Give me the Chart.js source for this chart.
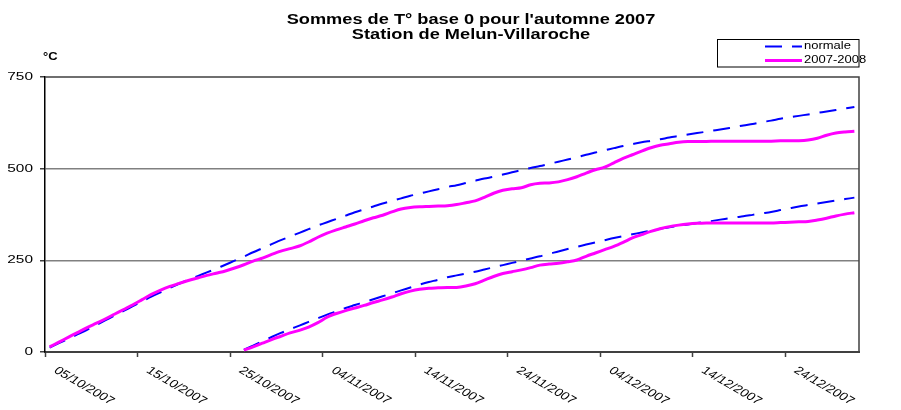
<!DOCTYPE html>
<html>
<head>
<meta charset="utf-8">
<script src="https://cdn.jsdelivr.net/npm/chart.js@4.4.1/dist/chart.umd.min.js"></script>
<style>
  body { margin: 0; background: #fff; }
  #wrap { width: 901px; height: 410px; position: relative; }
</style>
</head>
<body>
<div id="wrap"><canvas id="chart"></canvas></div>
<script>
// jours du 05/10/2007 au 31/12/2007
const nbJours = 88;
const jours = [];
for (let i = 0; i < nbJours; i++) {
  const d = new Date(2007, 9, 5 + i);
  const dd = String(d.getDate()).padStart(2, '0');
  const mm = String(d.getMonth() + 1).padStart(2, '0');
  jours.push(dd + '/' + mm + '/' + d.getFullYear());
}
const pasEtiquettes = 10;
const yTicks = [0, 250, 500, 750];

const titre = ["Sommes de T° base 0 pour l'automne 2007", 'Station de Melun-Villaroche'];
const uniteY = '°C';

// cumul depuis le 05/10
const normale1 = [12, 24, 36, 48, 60, 73, 86, 99, 112, 125,
  138, 151, 163, 175, 186, 197, 207, 217, 227, 238,
  249, 260, 272, 283, 294, 305, 315, 325, 335, 345,
  354, 363, 372, 381, 389, 397, 405, 412, 419, 426,
  432, 438, 444, 450, 455, 461, 467, 473, 478, 484,
  490, 496, 502, 507, 513, 519, 525, 531, 538, 544,
  550, 556, 562, 567, 572, 576, 580, 585, 589, 593,
  597, 601, 605, 609, 613, 618, 622, 627, 631, 636,
  640, 644, 648, 652, 656, 660, 664, 668];
const annee1 = [14, 27, 40, 53, 66, 78, 90, 103, 116, 129,
  143, 157, 169, 179, 187, 195, 202, 209, 215, 221,
  229, 238, 248, 256, 266, 275, 282, 289, 300, 313,
  324, 333, 341, 349, 358, 366, 373, 382, 390, 394,
  396, 397, 398, 399, 402, 407, 412, 422, 433, 441,
  445, 448, 456, 460, 461, 464, 470, 478, 488, 497,
  504, 516, 528, 538, 548, 557, 564, 568, 572, 574,
  574, 574, 575, 575, 575, 575, 575, 575, 575, 576,
  576, 576, 578, 583, 591, 597, 600, 602];
// cumul depuis le 26/10
const normale2 = [null, null, null, null, null, null, null, null, null, null,
  null, null, null, null, null, null, null, null, null, null,
  null, 6, 17, 29, 41, 52, 62, 72, 82, 92,
  102, 111, 120, 128, 136, 144, 152, 160, 168, 176,
  184, 191, 197, 204, 209, 214, 219, 225, 231, 237,
  243, 249, 255, 261, 268, 274, 281, 287, 293, 299,
  305, 311, 316, 321, 326, 331, 336, 340, 344, 348,
  352, 355, 359, 363, 367, 370, 374, 378, 382, 387,
  392, 397, 401, 405, 409, 413, 417, 421];
const annee2 = [null, null, null, null, null, null, null, null, null, null,
  null, null, null, null, null, null, null, null, null, null,
  null, 5, 14, 24, 34, 43, 52, 59, 68, 80,
  95, 105, 113, 120, 127, 135, 142, 150, 159, 166,
  171, 174, 175, 176, 176, 180, 186, 196, 206, 214,
  219, 224, 230, 237, 240, 242, 246, 251, 261, 270,
  279, 288, 299, 311, 320, 329, 336, 342, 346, 349,
  351, 352, 352, 352, 352, 352, 352, 352, 352, 353,
  354, 355, 356, 360, 365, 371, 376, 380];

const bleu = '#0000FF';
const magenta = '#FF00FF';
const tirets = [17, 10];
const police = '"Liberation Sans", Arial, sans-serif';
const etirement = 1.3; // le graphique d'origine est etire en largeur

function texte(ctx, str, x, y, font, align, base, sx, angle) {
  ctx.save();
  ctx.translate(x, y);
  ctx.scale(sx, 1);
  if (angle) ctx.rotate(angle);
  ctx.font = font;
  ctx.fillStyle = '#000';
  ctx.textAlign = align;
  ctx.textBaseline = base;
  ctx.fillText(str, 0, 0);
  ctx.restore();
}

const decor = {
  id: 'decor',
  afterDraw(chart) {
    const ctx = chart.ctx;
    const area = chart.chartArea;
    const xs = chart.scales.x;
    const ys = chart.scales.y;

    // cadre
    ctx.save();
    ctx.strokeStyle = '#404040';
    ctx.lineWidth = 1.5;
    ctx.beginPath();
    ctx.moveTo(area.left, area.top);
    ctx.lineTo(area.right, area.top);
    ctx.lineTo(area.right, area.bottom);
    ctx.stroke();
    ctx.restore();

    // titre
    texte(ctx, titre[0], 471, 24, 'bold 14px ' + police, 'center', 'alphabetic', etirement);
    texte(ctx, titre[1], 471, 39, 'bold 14px ' + police, 'center', 'alphabetic', etirement);
    texte(ctx, uniteY, 43, 60, 'bold 10px ' + police, 'left', 'alphabetic', etirement);

    // etiquettes axe Y
    ys.ticks.forEach(t => {
      texte(ctx, String(t.value), 33, ys.getPixelForValue(t.value), '11px ' + police, 'right', 'middle', 1.4);
    });

    // etiquettes axe X, penchees vers le bas
    for (let i = 0; i < jours.length; i += pasEtiquettes) {
      const px = xs.getPixelForValue(i);
      texte(ctx, jours[i], px + 10, area.bottom + 13, '11px ' + police, 'left', 'top', etirement, 37 * Math.PI / 180);
    }

    // legende
    ctx.save();
    ctx.strokeStyle = '#000';
    ctx.lineWidth = 1;
    ctx.strokeRect(717.5, 39.5, 141.5, 27.5);
    const items = chart.data.datasets.filter(d => d.legende);
    items.sort((a, b) => a.rangLegende - b.rangLegende);
    items.forEach((d, k) => {
      const y = 46.5 + k * 14;
      ctx.strokeStyle = d.borderColor;
      ctx.lineWidth = d.borderWidth;
      ctx.setLineDash(d.borderDash || []);
      ctx.beginPath();
      ctx.moveTo(765, y);
      ctx.lineTo(802, y);
      ctx.stroke();
      ctx.setLineDash([]);
      texte(ctx, d.label, 804, y, '10px ' + police, 'left', 'middle', etirement);
    });
    ctx.restore();
  }
};

const ctx = document.getElementById('chart').getContext('2d');
const chart = new Chart(ctx, {
  type: 'line',
  data: {
    labels: jours,
    datasets: [
      { label: '2007-2008', data: annee1, borderColor: magenta, borderWidth: 3, order: 0, legende: true, rangLegende: 1 },
      { label: '2007-2008', data: annee2, borderColor: magenta, borderWidth: 3, order: 0 },
      { label: 'normale', data: normale1, borderColor: bleu, borderWidth: 2, borderDash: tirets, order: 1, legende: true, rangLegende: 0 },
      { label: 'normale', data: normale2, borderColor: bleu, borderWidth: 2, borderDash: tirets, order: 1 }
    ]
  },
  options: {
    responsive: true,
    maintainAspectRatio: false,
    animation: false,
    layout: { padding: { top: 77, right: 42, left: 0, bottom: 0 } },
    elements: {
      point: { radius: 0 },
      line: { tension: 0.3, fill: false }
    },
    plugins: {
      legend: { display: false },
      title: { display: false },
      tooltip: { enabled: false }
    },
    scales: {
      x: {
        type: 'category',
        offset: true,
        grid: {
          offset: true,
          drawOnChartArea: false,
          tickLength: 5,
          tickWidth: 1.5,
          tickColor: (c) => (c.index % pasEtiquettes === 0 ? '#404040' : 'rgba(0,0,0,0)')
        },
        border: { color: '#404040', width: 2 },
        ticks: { display: false, autoSkip: false },
        afterFit: (s) => { s.height = 58; }
      },
      y: {
        min: 0,
        max: 750,
        afterBuildTicks: (s) => { s.ticks = yTicks.map(v => ({ value: v })); },
        grid: {
          color: (c) => (c.tick && c.tick.value > 0 && c.tick.value < 750 ? '#808080' : 'rgba(0,0,0,0)'),
          lineWidth: 1.5,
          tickLength: 5,
          tickColor: '#404040'
        },
        border: { color: '#000', width: 1.5 },
        ticks: { display: false },
        afterFit: (s) => { s.width = 45; }
      }
    }
  },
  plugins: [decor]
});
</script>
</body>
</html>
